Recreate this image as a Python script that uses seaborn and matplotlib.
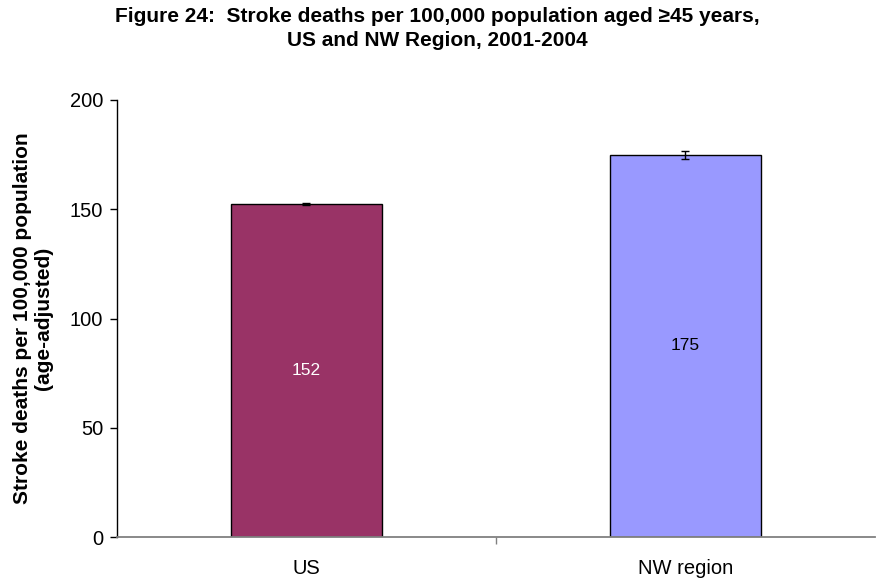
import numpy as np
import pandas as pd
import seaborn as sns
import matplotlib.pyplot as plt

# Data
regions = ['US', 'NW region']
rates = [152.3, 174.9]
errors = [0.4, 1.8]
bar_colors = ['#993366', '#9999FF']
label_colors = ['white', 'black']

df = pd.DataFrame({'region': regions, 'rate': rates})

sns.set_theme(style='white')
plt.rcParams['font.family'] = ['Liberation Sans', 'DejaVu Sans']
plt.rcParams['text.color'] = 'black'
plt.rcParams['axes.labelcolor'] = 'black'
plt.rcParams['xtick.color'] = 'black'
plt.rcParams['ytick.color'] = 'black'

fig = plt.figure(figsize=(8.76, 5.8), dpi=100)
ax = fig.add_axes([0.1336, 0.0741, 0.865, 0.7535])

sns.barplot(data=df, x='region', y='rate', hue='region', palette=bar_colors,
            saturation=1, width=0.4, edgecolor='black', linewidth=1,
            legend=False, ax=ax)
ax.errorbar(range(len(rates)), rates, yerr=errors, fmt='none', ecolor='black',
            elinewidth=1, capsize=3, capthick=1)

for i, (v, c) in enumerate(zip(rates, label_colors)):
    ax.text(i, v / 2, f'{v:.0f}', ha='center', va='center', color=c, fontsize=12.5)

ax.set_ylim(0, 200)
ax.set_yticks([0, 50, 100, 150, 200])
ax.set_xlim(-0.5, 1.5)
ax.set_xticks([0.5], minor=True)
ax.set_xlabel('')
ax.set_ylabel('Stroke deaths per 100,000 population\n(age-adjusted)',
              fontsize=15, fontweight='bold', linespacing=1.1)
ax.yaxis.set_label_coords(-0.085, 0.5)
ax.tick_params(axis='y', which='major', direction='out', length=5, width=1,
               color='black', left=True, labelsize=14.5, pad=5)
ax.tick_params(axis='x', which='major', length=0, labelsize=14.5, pad=16)
ax.tick_params(axis='x', which='minor', direction='out', length=5, width=1,
               color='#808080', bottom=True)

for s in ['top', 'right']:
    ax.spines[s].set_visible(False)
ax.spines['left'].set_color('black')
ax.spines['left'].set_linewidth(1)
ax.spines['bottom'].set_color('#808080')
ax.spines['bottom'].set_linewidth(1.3)

fig.text(0.4995, 0.951, 'Figure 24:  Stroke deaths per 100,000 population aged \u226545 years,\n'
         'US and NW Region, 2001-2004', ha='center', va='center',
         fontsize=15, fontweight='bold', linespacing=1.3)

fig.savefig('out.png', dpi=100)
